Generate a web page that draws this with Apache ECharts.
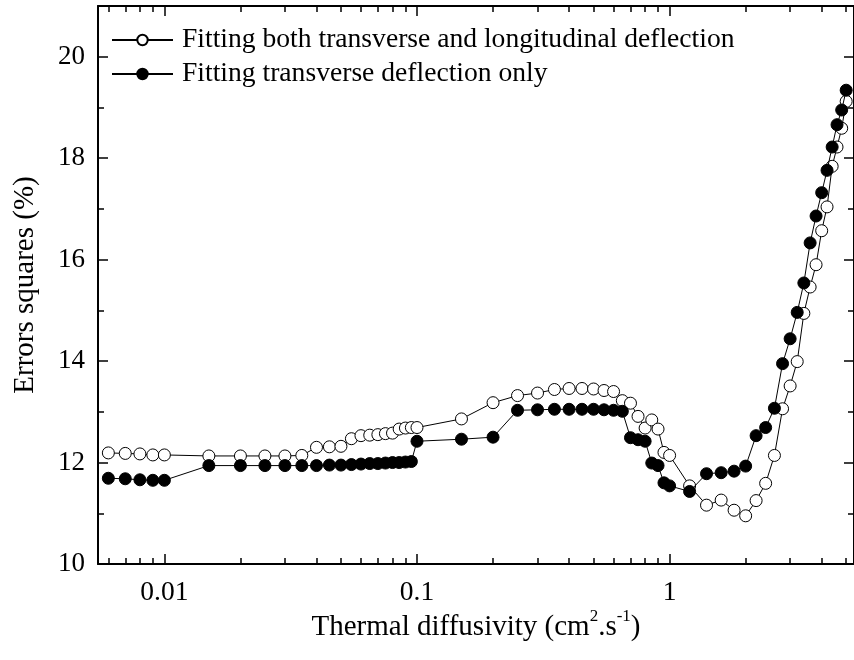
<!DOCTYPE html>
<html>
<head>
<meta charset="utf-8">
<script src="https://cdn.jsdelivr.net/npm/echarts@6/dist/echarts.min.js"></script>
<style>html,body{margin:0;padding:0;background:#fff}#c{width:854px;height:660px}</style>
</head>
<body>
<div id="c"></div>
<script>
// Thermal diffusivity values (cm^2/s)
var diffusivity = [0.006,0.007,0.008,0.009,0.01,0.015,0.02,0.025,0.03,0.035,0.04,0.045,0.05,0.055,0.06,0.065,0.07,0.075,0.08,0.085,0.09,0.095,0.1,
  0.15,0.2,0.25,0.3,0.35,0.4,0.45,0.5,0.55,0.6,0.65,0.7,0.75,0.8,0.85,0.9,0.95,1.0,
  1.2,1.4,1.6,1.8,2.0,2.2,2.4,2.6,2.8,3.0,3.2,3.4,3.6,3.8,4.0,4.2,4.4,4.6,4.8,5.0];
// Fitting both transverse and longitudinal deflection (open circles)
var bothErrors = [12.19,12.18,12.17,12.15,12.15,12.13,12.13,12.13,12.13,12.14,12.30,12.31,12.32,12.47,12.53,12.54,12.55,12.57,12.58,12.66,12.68,12.69,12.69,
  12.86,13.18,13.32,13.37,13.44,13.46,13.46,13.45,13.42,13.40,13.22,13.17,12.91,12.68,12.84,12.66,12.20,12.14,
  11.54,11.16,11.26,11.06,10.95,11.25,11.59,12.14,13.06,13.51,13.99,14.94,15.46,15.90,16.57,17.04,17.84,18.22,18.59,19.12];
// Fitting transverse deflection only (filled circles)
var transErrors = [11.69,11.68,11.66,11.65,11.65,11.94,11.94,11.94,11.94,11.94,11.94,11.95,11.95,11.96,11.97,11.98,11.98,11.99,12.00,12.00,12.01,12.02,12.42,
  12.46,12.50,13.03,13.04,13.05,13.05,13.05,13.05,13.04,13.03,13.01,12.49,12.45,12.42,11.99,11.94,11.60,11.54,
  11.43,11.78,11.80,11.83,11.93,12.53,12.69,13.07,13.95,14.44,14.96,15.54,16.33,16.86,17.32,17.76,18.22,18.66,18.95,19.34];

var seriesNames = ['Fitting both transverse and longitudinal deflection', 'Fitting transverse deflection only'];
var xMajorTicks = [0.01, 0.1, 1];
var xMinorTicks = [0.006,0.007,0.008,0.009,0.02,0.03,0.04,0.05,0.06,0.07,0.08,0.09,0.2,0.3,0.4,0.5,0.6,0.7,0.8,0.9,2,3,4,5];
var yMajorTicks = [10,12,14,16,18,20];
var yMinorTicks = [11,13,15,17,19];
var xMin = 0.00546, xMax = 5.37, yMin = 10, yMax = 21;

var FONT = 'Liberation Serif';
function pairs(xs, ys){ return xs.map(function(x,i){ return [x, ys[i]]; }); }

var chart = echarts.init(document.getElementById('c'), null, {renderer:'canvas'});
var axisLine = {show:true, lineStyle:{color:'#000', width:2}};
function xAx(grid, pos, ticks, len, labels, line, name){
  var a = {type:'log', gridIndex:grid, position:pos, min:xMin, max:xMax, logBase:10,
    axisLine: line ? axisLine : {show:false},
    axisTick:{show:true, inside:true, length:len, customValues:ticks, lineStyle:{color:'#000', width:1.5}},
    axisLabel: labels ? {show:true, customValues:labels, margin:15, color:'#000', fontFamily:FONT, fontSize:27.5, formatter:function(v){return String(+v.toPrecision(6));}} : {show:false},
    splitLine:{show:false}, minorTick:{show:false}};
  if (name) {
    a.name = '{n|Thermal diffusivity (cm}{s|2}{n|.s}{s|-1}{n|)}';
    a.nameLocation = 'middle'; a.nameGap = 44; a.nameMoveOverlap = false;
    a.nameTextStyle = {color:'#000', fontFamily:FONT, fontSize:29,
      rich:{ n:{fontFamily:FONT, fontSize:29, color:'#000', lineHeight:34, verticalAlign:'bottom'},
             s:{fontFamily:FONT, fontSize:17, color:'#000', lineHeight:17, verticalAlign:'top'} }};
  }
  return a;
}
function yAx(grid, pos, ticks, len, labels, line, name){
  var a = {type:'value', gridIndex:grid, position:pos, min:yMin, max:yMax,
    axisLine: line ? axisLine : {show:false},
    axisTick:{show:true, inside:true, length:len, customValues:ticks, lineStyle:{color:'#000', width:1.5}},
    axisLabel: labels ? {show:true, customValues:labels, margin:13, color:'#000', fontFamily:FONT, fontSize:27} : {show:false},
    splitLine:{show:false}, minorTick:{show:false}};
  if (name) {
    a.name = name; a.nameLocation = 'middle'; a.nameGap = 58; a.nameMoveOverlap = false;
    a.nameTextStyle = {color:'#000', fontFamily:FONT, fontSize:29};
  }
  return a;
}
var gridLayout = {left:98, top:6, right:-2, bottom:96, containLabel:false};

chart.setOption({
  backgroundColor:'#fff',
  animation:false,
  grid:[ Object.assign({}, gridLayout), Object.assign({}, gridLayout) ],
  xAxis:[
    xAx(0,'bottom',xMajorTicks,10,xMajorTicks,true,true),
    xAx(0,'top',xMajorTicks,10,null,true,false),
    xAx(1,'bottom',xMinorTicks,6,null,false,false),
    xAx(1,'top',xMinorTicks,6,null,false,false)
  ],
  yAxis:[
    yAx(0,'left',yMajorTicks,10,yMajorTicks,true,'Errors squares (%)'),
    yAx(0,'right',yMajorTicks,10,null,true,null),
    yAx(1,'left',yMinorTicks,6,null,false,null),
    yAx(1,'right',yMinorTicks,6,null,false,null)
  ],
  legend:{
    orient:'vertical', left:111, top:26, padding:0, itemGap:6,
    itemWidth:61, itemHeight:13,
    textStyle:{color:'#000', fontFamily:FONT, fontSize:27.6, padding:[0,0,0,4]},
    data:seriesNames
  },
  series:[
    {name:seriesNames[0], type:'line', xAxisIndex:0, yAxisIndex:0, data:pairs(diffusivity,bothErrors),
      symbol:'circle', symbolSize:12, showAllSymbol:true,
      lineStyle:{color:'#000', width:1}, itemStyle:{color:'#fff', borderColor:'#000', borderWidth:1}, z:2},
    {name:seriesNames[1], type:'line', xAxisIndex:0, yAxisIndex:0, data:pairs(diffusivity,transErrors),
      symbol:'circle', symbolSize:12, showAllSymbol:true,
      lineStyle:{color:'#000', width:1}, itemStyle:{color:'#000', borderColor:'#000', borderWidth:1}, z:3}
  ]
});
</script>
</body>
</html>
